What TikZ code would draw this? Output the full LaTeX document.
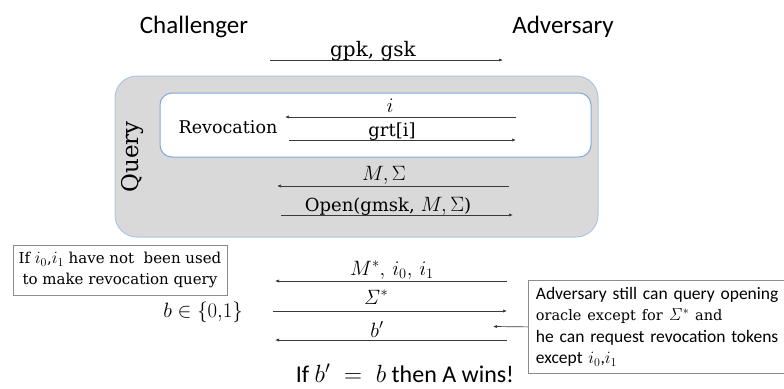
\documentclass[tikz,border=0pt]{standalone}
\usepackage[no-math]{fontspec}
\setsansfont{Carlito}
\setmainfont{DejaVu Serif}
\usetikzlibrary{arrows.meta}
\definecolor{msg}{HTML}{3A3A3A}
\definecolor{qfill}{HTML}{D9D9D9}
\definecolor{qborder}{HTML}{A9C6E6}
\definecolor{rborder}{HTML}{80AADA}
\definecolor{nborder}{HTML}{8C8C8C}
\newcommand{\mth}[2]{{\fontsize{#1}{#1}\selectfont$#2$}}
\tikzset{
  msgline/.style={draw=msg, line width=0.7pt, -{Latex[length=4pt,width=3.2pt]}},
  party/.style={font=\sffamily\fontsize{25}{30}\selectfont, inner sep=0},
  lab/.style={font=\fontsize{18}{22}\selectfont, inner sep=0, anchor=base},
  biglab/.style={font=\fontsize{21}{25}\selectfont, inner sep=0, anchor=base},
  qbox/.style={draw=qborder, fill=qfill, line width=1pt, rounded corners=22pt, inner sep=0},
  rbox/.style={draw=rborder, fill=white, line width=1pt, rounded corners=12pt, inner sep=0},
  notebox/.style={draw=nborder, line width=0.8pt, inner sep=0}
}
\begin{document}
\begin{tikzpicture}[x=1pt,y=-1pt]
\useasboundingbox (0,0) rectangle (784,388);
% parties
\node[party] (chal) at (194,27) {Challenger};
\node[party] (adv) at (563,27) {Adversary};
% setup message
\coordinate (g1) at (270,60);
\coordinate (g2) at (503,60);
\draw[msgline] (g1) -- (g2);
\node[lab, font=\fontsize{20}{24}\selectfont] (lg) at (373,56) {gpk, gsk};
% query box
\node[qbox, minimum width=483pt, minimum height=161pt] (query) at (356.5,156.5) {};
\node[rbox, minimum width=431pt, minimum height=64pt] (rev) at (375.5,125) {};
\node[rotate=90, font=\fontsize{23}{27}\selectfont, inner sep=0] (qlab) at (133,157) {Query};
\node[font=\fontsize{17.5}{20}\selectfont, inner sep=0] (revlab) at (228,127) {Revocation};
% revocation messages
\coordinate (i1) at (516,117);
\coordinate (i2) at (285,117);
\draw[msgline] (i1) -- (i2);
\node[biglab] (li) at (390,112) {$i$};
\coordinate (r1) at (289,140);
\coordinate (r2) at (516,140);
\draw[msgline] (r1) -- (r2);
\node[lab] (lr) at (392,136) {grt[i]};
% open messages
\coordinate (m1) at (509,186);
\coordinate (m2) at (277,186);
\draw[msgline] (m1) -- (m2);
\node[biglab, font=\fontsize{20}{24}\selectfont] (lm) at (384,180) {$M,\Sigma$};
\coordinate (o1) at (281,215);
\coordinate (o2) at (513,215);
\draw[msgline] (o1) -- (o2);
\node[lab] (lo) at (388,211) {Open(gmsk, \mth{20}{M,\Sigma})};
% left note
\node[notebox, minimum width=214pt, minimum height=50pt, align=center,
      font=\fontsize{15}{21}\selectfont] (lnote) at (120,270)
  {If \mth{17.5}{i_0},\mth{17.5}{i_1} have not \ been used\\to make revocation query};
\node[font=\fontsize{21}{25}\selectfont, inner sep=0] (bset) at (203,312) {$b \in \{0{,}1\}$};
% challenge messages
\coordinate (c1) at (507,281);
\coordinate (c2) at (275,281);
\draw[msgline] (c1) -- (c2);
\node[biglab] (lc) at (392,275) {$M^{*},\, i_0,\, i_1$};
\coordinate (s1) at (273,311);
\coordinate (s2) at (507,311);
\draw[msgline] (s1) -- (s2);
\node[biglab] (ls) at (376,304) {$\mathit{\Sigma}^{*}$};
\coordinate (b1) at (507,340);
\coordinate (b2) at (275,340);
\draw[msgline] (b1) -- (b2);
\node[biglab] (lb) at (377,337) {$b'$};
% right note
\node[notebox, anchor=north west, minimum width=300pt, minimum height=93pt,
      text width=285pt, align=left, inner xsep=7pt,
      font=\sffamily\fontsize{17.5}{21.5}\selectfont] (rnote) at (528,280)
  {Adversary still can query opening\\
   {\rmfamily\fontsize{14.5}{21.5}\selectfont oracle except for \mth{17.5}{\mathit{\Sigma}^{*}} and}\\
   he can request revocation tokens\\
   except \mth{18.5}{i_0},\mth{18.5}{i_1}};
\coordinate (ra) at (493,326.5);
\draw[msgline] (rnote.west) -- (ra);
% result
\node[font=\sffamily\fontsize{24}{28}\selectfont, inner sep=0] (win) at (405,373)
  {If $b'\;=\;b$ then A wins!};
\end{tikzpicture}
\end{document}
